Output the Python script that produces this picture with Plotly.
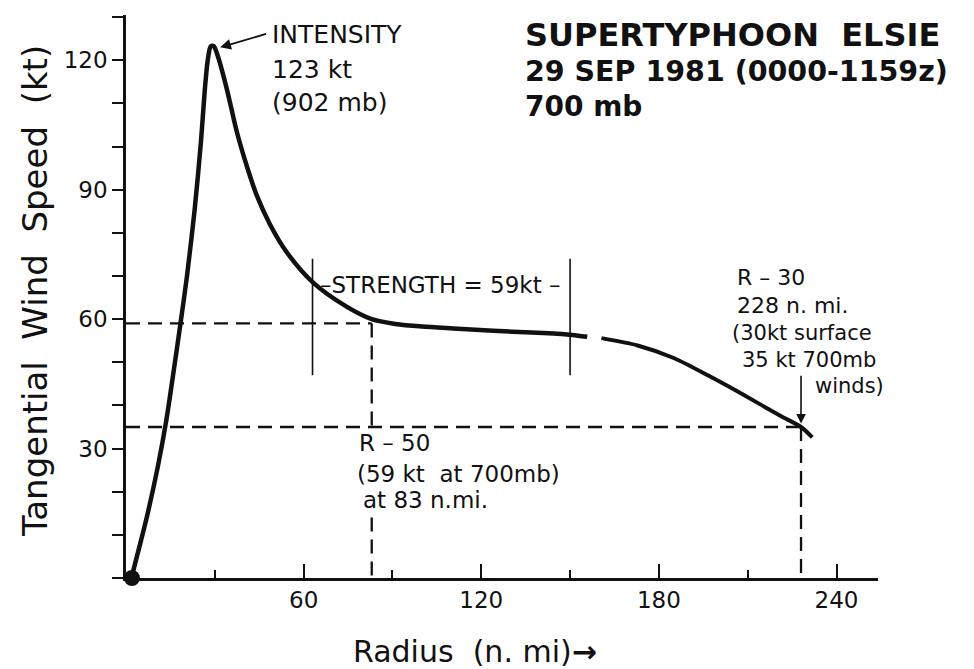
import plotly.graph_objects as go

# ---- data ----
radius_inner = [2.0, 5.0, 7.4, 10.8, 13.6, 16.0, 18.3, 20.6, 23.2, 25.3, 26.6, 27.6, 28.6, 29.6,
                31.0, 34.0, 37.4, 40.8, 44.1, 48.6, 54.3, 63.3, 74.5, 83.0, 91.0, 100.0, 112.0,
                124.0, 137.0, 149.7, 155.8]
speed_inner = [0.5, 8.5, 15.2, 26.0, 36.5, 47.5, 58.5, 70.0, 85.5, 101.0, 113.0, 120.0, 123.2, 123.3,
               121.0, 113.5, 103.5, 95.5, 88.8, 82.0, 75.5, 68.4, 62.9, 60.0, 58.9, 58.3, 57.8,
               57.3, 56.9, 56.4, 55.9]
radius_outer = [160.6, 172.8, 185.0, 197.0, 209.0, 221.0, 228.0, 231.8]
speed_outer = [55.6, 53.9, 51.0, 46.8, 42.3, 37.6, 35.0, 32.6]

r50_radius = 83
r50_speed = 59
r50_text_gap = [35, 14]     # dashed vertical is broken where the R-50 text sits
r30_radius = 228
r30_speed = 35
strength_bounds = [63, 150]
strength_span = [47, 74]

x_major = [60, 120, 180, 240]
x_minor = [30, 90, 150, 210]
y_major = [30, 60, 90, 120]

FONT = "DejaVu Sans, Verdana, sans-serif"
BLACK = "#111111"

fig = go.Figure()

dash = dict(color=BLACK, width=2.3, dash="14px,8px")

# R-50 dashed guides
fig.add_trace(go.Scatter(x=[0, r50_radius], y=[r50_speed, r50_speed], mode="lines", line=dash, hoverinfo="skip"))
fig.add_trace(go.Scatter(x=[r50_radius, r50_radius], y=[r50_speed, r50_text_gap[0]], mode="lines", line=dash, hoverinfo="skip"))
fig.add_trace(go.Scatter(x=[r50_radius, r50_radius], y=[r50_text_gap[1], 0], mode="lines", line=dash, hoverinfo="skip"))
# R-30 dashed guides
fig.add_trace(go.Scatter(x=[0, r30_radius], y=[r30_speed, r30_speed], mode="lines", line=dash, hoverinfo="skip"))
fig.add_trace(go.Scatter(x=[r30_radius, r30_radius], y=[r30_speed, 0], mode="lines", line=dash, hoverinfo="skip"))

# strength bounds
for xb in strength_bounds:
    fig.add_trace(go.Scatter(x=[xb, xb], y=strength_span, mode="lines",
                             line=dict(color=BLACK, width=1.6), hoverinfo="skip"))

# wind profile
fig.add_trace(go.Scatter(x=radius_inner, y=speed_inner, mode="lines",
                         line=dict(color=BLACK, width=4.5, shape="spline", smoothing=0.8)))
fig.add_trace(go.Scatter(x=radius_outer, y=speed_outer, mode="lines",
                         line=dict(color=BLACK, width=4, shape="spline", smoothing=0.8)))

# storm symbol at origin
fig.add_trace(go.Scatter(x=[radius_inner[0]], y=[0], mode="markers", cliponaxis=False,
                         marker=dict(color=BLACK, size=16, symbol="circle")))

ann = []
def txt(x, y, s, size=23, anchor="left", bold=False, xref="x", yref="y", angle=0):
    ann.append(dict(x=x, y=y, xref=xref, yref=yref, text=("<b>%s</b>" % s) if bold else s,
                    showarrow=False, xanchor=anchor, yanchor="middle", textangle=angle,
                    font=dict(family=FONT, size=size, color=BLACK)))

# title block
txt(134.1, 125.9, "SUPERTYPHOON  ELSIE", size=32, bold=True)
txt(134.1, 117.3, "29 SEP 1981 (0000-1159z)", size=28.5, bold=True)
txt(134.1, 109.2, "700 mb", size=28, bold=True)

# intensity
txt(48.6, 125.9, "INTENSITY", size=25)
txt(48.6, 117.8, "123 kt", size=25)
txt(48.6, 110.2, "(902 mb)", size=25)
ann.append(dict(x=31.8, y=123.0, ax=47.8, ay=126.2, axref="x", ayref="y", xref="x", yref="y",
                showarrow=True, arrowhead=2, arrowsize=1.2, arrowwidth=1.8, arrowcolor=BLACK, text=""))

# strength
txt(106.3, 67.9, "–STRENGTH = 59kt –", size=23, anchor="center")

# R-50
txt(78.0, 31.2, "R – 50", size=23)
txt(77.5, 24.2, "(59 kt  at 700mb)", size=23)
txt(79.5, 18.0, "at 83 n.mi.", size=23)

# R-30
txt(205.7, 69.6, "R – 30", size=22)
txt(205.7, 63.2, "228 n. mi.", size=22)
txt(204.0, 56.8, "(30kt surface", size=21)
txt(207.4, 50.5, "35 kt 700mb", size=21)
txt(232.1, 44.6, "winds)", size=21)
ann.append(dict(x=r30_radius, y=r30_speed + 0.8, ax=r30_radius, ay=47.2, axref="x", ayref="y",
                xref="x", yref="y", showarrow=True, arrowhead=2, arrowsize=1.2, arrowwidth=1.6,
                arrowcolor=BLACK, text=""))

# axis titles
txt(-0.121, 0.51, "Tangential  Wind  Speed  (kt)", size=34, anchor="center", xref="paper", yref="paper", angle=-90)
txt(0.464, -0.131, "Radius  (n. mi)<b>→</b>", size=30, anchor="center", xref="paper", yref="paper")

fig.update_layout(
    width=966, height=661,
    margin=dict(l=118, r=96, t=7, b=91),
    paper_bgcolor="white", plot_bgcolor="white",
    showlegend=False,
    annotations=ann,
    font=dict(family=FONT, color=BLACK),
    xaxis=dict(range=[0, 254], showgrid=False, zeroline=False, showline=True, linewidth=2.5,
               linecolor=BLACK, ticks="inside", ticklen=14, tickwidth=2, tickcolor=BLACK,
               tickvals=x_major, ticktext=[str(v) for v in x_major],
               tickfont=dict(family=FONT, size=23, color=BLACK),
               minor=dict(ticks="inside", tickvals=x_minor, ticklen=8, tickwidth=2, tickcolor=BLACK)),
    yaxis=dict(range=[0, 130.5], showgrid=False, zeroline=False, showline=True, linewidth=2.5,
               linecolor=BLACK, ticks="outside", ticklen=11, tickwidth=2, tickcolor=BLACK,
               tickvals=y_major, ticktext=[str(v) for v in y_major],
               tickfont=dict(family=FONT, size=23, color=BLACK),
               minor=dict(ticks="outside", dtick=10, ticklen=11, tickwidth=2, tickcolor=BLACK)),
)

fig.write_html("out.html")
